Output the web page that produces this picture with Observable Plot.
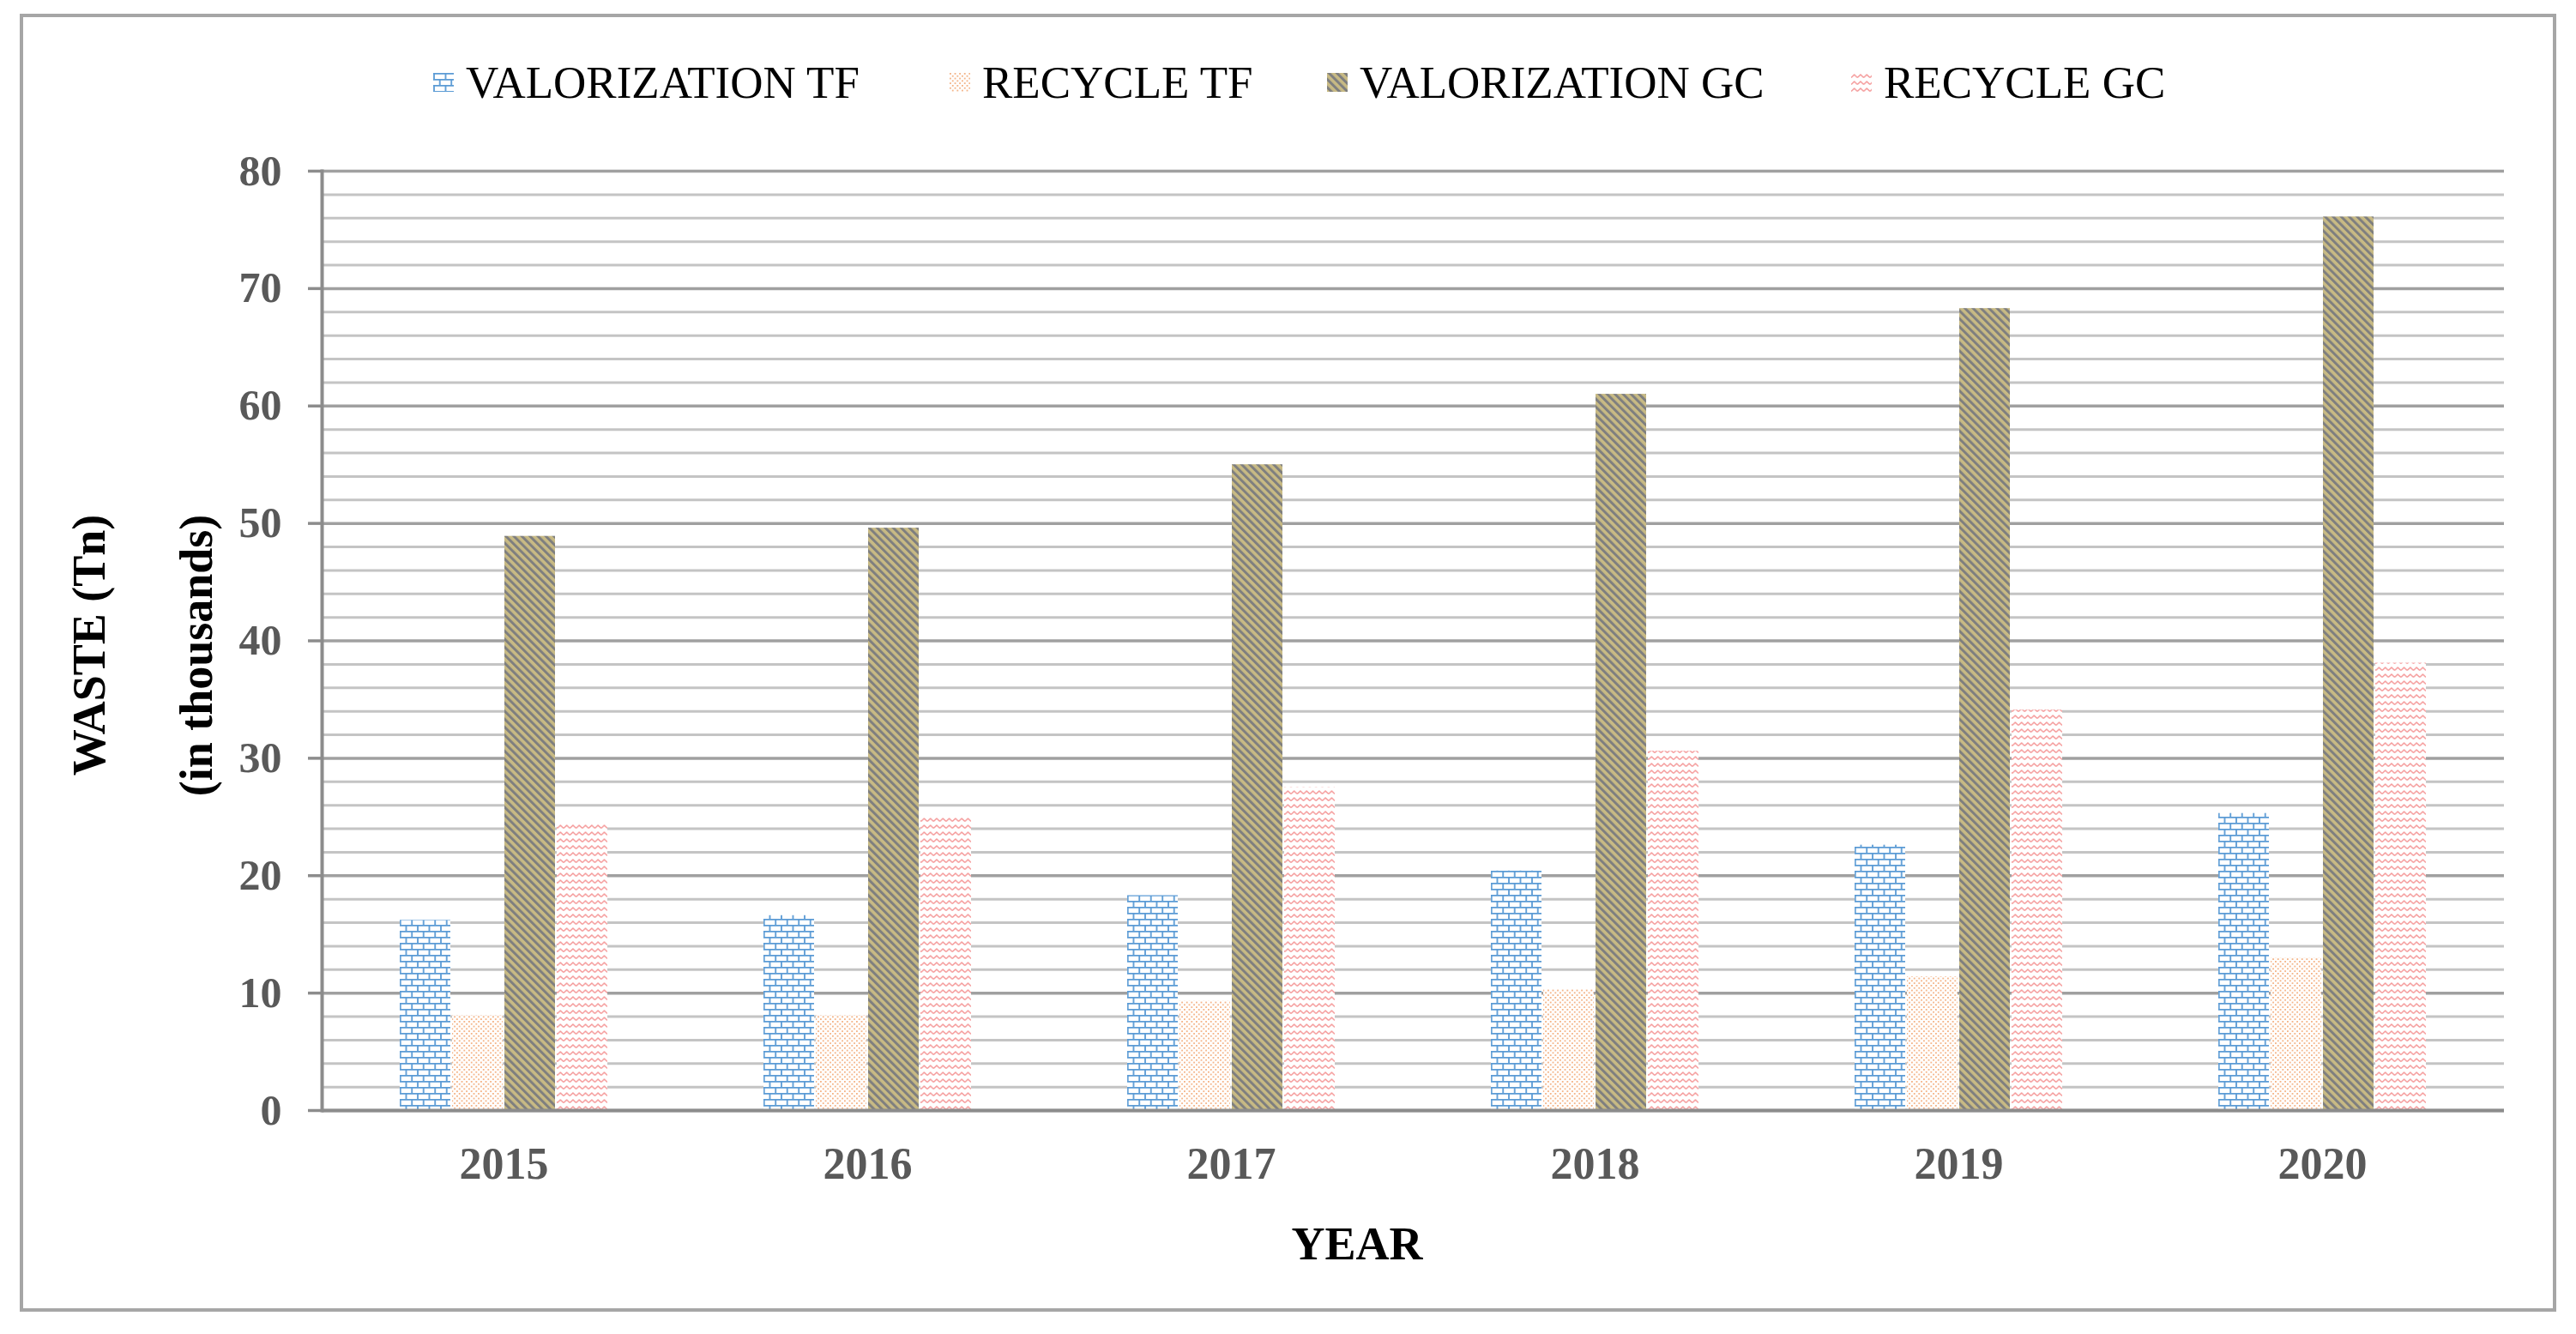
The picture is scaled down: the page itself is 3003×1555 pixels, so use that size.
<!DOCTYPE html>
<html><head><meta charset="utf-8">
<script src="https://cdn.jsdelivr.net/npm/d3@7"></script>
<script src="https://cdn.jsdelivr.net/npm/@observablehq/plot@0.6"></script>
<style>
html,body{margin:0;padding:0;background:#fff;}
#wrap{position:relative;width:3003px;height:1555px;overflow:hidden;font-family:'Liberation Serif','Times New Roman',serif;background:#fff;}
#frame{position:absolute;left:23px;top:16px;width:2957px;height:1513px;box-sizing:border-box;border:4px solid #A6A6A6;pointer-events:none;}
#legend{position:absolute;left:0;top:70px;width:3003px;height:52px;font-size:53px;line-height:52px;color:#000;white-space:nowrap;}
.item{position:absolute;top:0;display:flex;align-items:center;height:52px;}
.item svg{width:24px;height:22px;margin-right:14px;display:block;}
#chart{position:absolute;left:0;top:0;}
</style></head>
<body><div id="wrap">
<svg width="0" height="0" style="position:absolute">
<defs>
 <pattern id="p-brick" patternUnits="userSpaceOnUse" width="13.5" height="14">
   <rect width="13.5" height="14" fill="#fff"/>
   <path d="M0,0.9H13.5M0,7.9H13.5M1,0.9V7.9M7.75,7.9V14" stroke="#5B9BD5" stroke-width="1.8" fill="none"/>
 </pattern>
 <pattern id="p-dots" patternUnits="userSpaceOnUse" width="5.6" height="5.6">
   <rect width="5.6" height="5.6" fill="#fff"/>
   <rect x="0" y="0" width="1.8" height="1.8" fill="#F4B183"/>
   <rect x="2.8" y="2.8" width="1.8" height="1.8" fill="#F4B183"/>
 </pattern>
 <pattern id="p-diag" patternUnits="userSpaceOnUse" width="6.6" height="6.6" patternTransform="rotate(-45)">
   <rect width="6.6" height="6.6" fill="#C8BA84"/>
   <rect width="3" height="6.6" fill="#7F7F7F"/>
 </pattern>
 <pattern id="p-zig" patternUnits="userSpaceOnUse" width="7.3" height="8">
   <rect width="7.3" height="8" fill="#fff"/>
   <polyline points="0,5.5 3.65,2 7.3,5.5" stroke="#F59B9B" stroke-width="1.6" fill="none"/>
 </pattern>
</defs>
</svg>
<div id="chart"></div>
<div id="legend"></div>
<div id="frame"></div>
</div>
<script>
const years = ["2015", "2016", "2017", "2018", "2019", "2020"];
const series = ["VALORIZATION TF", "RECYCLE TF", "VALORIZATION GC", "RECYCLE GC"];
const valorizationTF = [16.2, 16.6, 18.3, 20.4, 22.6, 25.3];
const recycleTF = [8.1, 8.1, 9.3, 10.3, 11.4, 13.0];
const valorizationGC = [48.9, 49.6, 55.0, 61.0, 68.3, 76.1];
const recycleGC = [24.4, 24.9, 27.5, 30.6, 34.1, 38.1];
const yTicks = [0, 10, 20, 30, 40, 50, 60, 70, 80];
const yMinor = [2, 4, 6, 8, 12, 14, 16, 18, 22, 24, 26, 28, 32, 34, 36, 38, 42, 44, 46, 48, 52, 54, 56, 58, 62, 64, 66, 68, 72, 74, 76, 78];
const patternFills = ["url(#p-brick)", "url(#p-dots)", "url(#p-diag)", "url(#p-zig)"];
const legendLeft = [505, 1107, 1547, 2158];

const seriesValues = [valorizationTF, recycleTF, valorizationGC, recycleGC];
const data = [];
years.forEach((year, i) => {
  series.forEach((s, j) => data.push({year, series: s, value: seriesValues[j][i]}));
});

const fontFamily = "'Liberation Serif','Times New Roman',serif";

const chart = Plot.plot({
  width: 3003,
  height: 1555,
  marginLeft: 375,
  marginRight: 84,
  marginTop: 199,
  marginBottom: 261,
  style: {fontFamily, background: "transparent", overflow: "visible"},
  fx: {domain: years, padding: 0, label: null},
  x: {domain: series, paddingInner: 0.033, paddingOuter: 1.49, axis: null},
  y: {domain: [0, 80], label: null},
  color: {domain: series, range: patternFills},
  marks: [
    Plot.ruleY(yMinor, {stroke: "#C4C4C4", strokeWidth: 3}),
    Plot.ruleY(yTicks, {stroke: "#A0A0A0", strokeWidth: 3.5}),
    Plot.barY(data, {fx: "year", x: "series", y: "value", fill: "series"}),
    Plot.ruleY([0], {stroke: "#8C8C8C", strokeWidth: 4}),
    Plot.frame({anchor: "left", facetAnchor: "left", stroke: "#8C8C8C", strokeWidth: 4}),
    Plot.axisY(yTicks, {tickSize: 16, tickPadding: 31, stroke: "#8C8C8C", strokeWidth: 3.5, fill: "#595959", fontSize: 50, fontWeight: "bold", label: null}),
    Plot.axisFx({anchor: "bottom", tickSize: 0, tickPadding: 43, fill: "#595959", fontSize: 52, fontWeight: "bold", label: null})
  ]
});
document.getElementById("chart").appendChild(chart);

const svg = d3.select(chart);
svg.append("text")
  .attr("transform", "translate(104,752) rotate(-90)")
  .attr("text-anchor", "middle").attr("dy", "0.33em")
  .attr("font-size", 54).attr("font-weight", "bold").attr("fill", "#000")
  .attr("font-family", fontFamily)
  .text("WASTE (Tn)");
svg.append("text")
  .attr("transform", "translate(229,764) rotate(-90)")
  .attr("text-anchor", "middle").attr("dy", "0.33em")
  .attr("font-size", 54).attr("font-weight", "bold").attr("fill", "#000")
  .attr("font-family", fontFamily)
  .text("(in thousands)");
svg.append("text")
  .attr("x", 1582).attr("y", 1468)
  .attr("text-anchor", "middle")
  .attr("font-size", 54).attr("font-weight", "bold").attr("fill", "#000")
  .attr("font-family", fontFamily)
  .text("YEAR");

const legend = d3.select("#legend");
series.forEach((s, j) => {
  const item = legend.append("div").attr("class", "item").style("left", legendLeft[j] + "px");
  item.append("svg").attr("viewBox", "0 0 24 22")
    .append("rect").attr("width", 24).attr("height", 22).attr("fill", patternFills[j]);
  item.append("span").text(s);
});
</script>
</body></html>
